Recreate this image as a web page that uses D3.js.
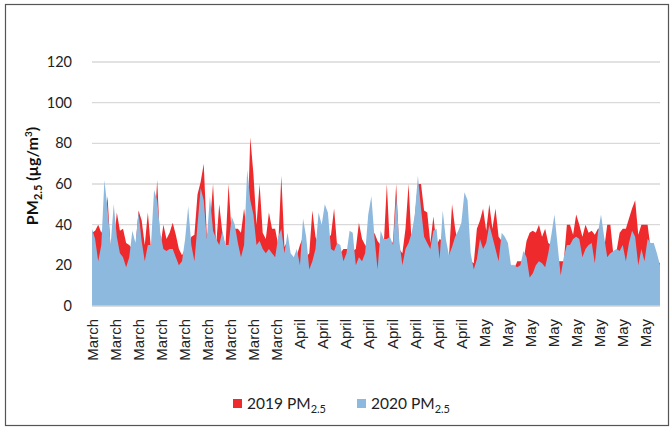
<!DOCTYPE html>
<html>
<head>
<meta charset="utf-8">
<script src="https://cdn.jsdelivr.net/npm/d3@7"></script>
<style>
  body { margin: 0; background: #fff; }
  svg { display: block; }
</style>
</head>
<body>
<div id="chart"></div>
<script>
// 12-hourly readings, 1 March to 31 May
const hourStep = 12;
const values2019 = [36,37,40,36,40,54,28,30,46,37,38,31,30,28,29,47,42,30,46,28,
  35,62,29,40,33,36,41,35,28,25,28,30,34,35,55,61,70,34,40,60,
  30,50,36,29,60,35,38,38,36,48,35,83,65,40,60,36,33,46,38,38,
  30,64,29,32,24,22,25,30,34,24,26,47,34,30,30,35,33,35,48,29,
  26,28,28,28,27,28,41,33,30,28,30,36,32,30,30,60,28,32,60,28,
  26,38,60,30,44,60,60,47,46,31,44,30,33,32,26,24,50,38,30,30,
  32,30,22,21,38,42,48,37,50,38,48,34,32,30,26,18,18,22,22,22,
  32,36,37,36,40,34,38,31,30,28,22,22,22,40,40,35,45,40,34,40,
  36,37,35,38,38,28,40,40,25,27,36,38,38,43,48,52,35,40,40,40,
  28,26,22,21];
const values2020 = [38,33,22,30,62,48,30,50,34,26,24,19,24,37,31,46,32,22,30,30,
  57,52,36,28,27,28,28,24,20,22,33,49,30,22,40,58,52,33,54,37,
  33,30,37,30,30,44,40,31,24,30,67,52,45,30,32,28,26,28,26,24,
  34,38,26,36,26,24,28,20,43,34,18,22,28,46,40,50,46,28,27,31,
  30,22,26,37,36,20,24,22,26,45,54,34,18,37,33,33,34,30,54,32,
  20,28,31,36,45,64,48,34,31,28,37,38,23,47,33,25,29,34,37,41,
  56,52,26,18,23,33,28,31,40,34,28,22,36,34,31,20,20,19,20,27,
  24,14,16,20,22,21,19,26,35,45,30,15,24,30,30,33,34,33,24,28,
  30,31,21,36,45,34,24,26,27,28,27,30,22,31,37,34,20,28,22,33,
  31,31,26,20];

// category labels, one every 89 hours
const tickEvery = 89;
const tickLabels = ["March","March","March","March","March","March","March","March","March",
  "April","April","April","April","April","April","April","April",
  "May","May","May","May","May","May","May","May"];
const yTicks = [0, 20, 40, 60, 80, 100, 120];

const width = 671, height = 429;
const plotLeft = 92, plotRight = 660, plotTop = 62, plotBottom = 306;
const red = "#ee2a2c", blue = "#8db9df";

const svg = d3.select("#chart").append("svg")
    .attr("width", width)
    .attr("height", height);

svg.append("rect")
    .attr("x", 5.5).attr("y", 4.5)
    .attr("width", 663).attr("height", 421)
    .attr("fill", "none")
    .attr("stroke", "#555")
    .attr("stroke-width", 1.2);

const x = d3.scaleLinear()
    .domain([0, (values2020.length - 1) * hourStep])
    .range([plotLeft, plotRight]);

const y = d3.scaleLinear()
    .domain([0, 120])
    .range([plotBottom, plotTop]);

// gridlines
svg.append("g")
    .selectAll("line")
    .data(yTicks.filter(d => d > 0))
    .enter()
    .append("line")
    .attr("x1", plotLeft).attr("x2", plotRight)
    .attr("y1", d => y(d)).attr("y2", d => y(d))
    .attr("stroke", "#d9d9d9")
    .attr("stroke-width", 1.3);

function areaFor(values) {
    return d3.area()
        .x((d, i) => x(i * hourStep))
        .y0(y(0))
        .y1(d => y(d))
        .curve(d3.curveLinear)(values);
}

svg.append("path")
    .attr("d", areaFor(values2019))
    .attr("fill", red);

svg.append("path")
    .attr("d", areaFor(values2020))
    .attr("fill", blue);

// baseline
svg.append("line")
    .attr("x1", plotLeft).attr("x2", plotRight)
    .attr("y1", y(0)).attr("y2", y(0))
    .attr("stroke", "#d0d0d0")
    .attr("stroke-width", 1.3);

// y axis labels
const yAxis = d3.axisLeft(y).tickValues(yTicks).tickSize(0).tickPadding(20);
svg.append("g")
    .attr("transform", "translate(" + plotLeft + ",0)")
    .call(yAxis)
    .call(g => g.select(".domain").remove())
    .selectAll("text")
    .attr("font-family", "Lato, 'Open Sans', sans-serif")
    .attr("font-size", "14.5px")
    .attr("fill", "#222");

// x axis labels
svg.append("g")
    .selectAll("text")
    .data(tickLabels)
    .enter()
    .append("text")
    .attr("transform", (d, i) => "translate(" + (x(i * tickEvery) + 1) + ",319) rotate(-90)")
    .attr("dy", "0.35em")
    .attr("text-anchor", "end")
    .attr("font-family", "'Liberation Sans', Arial, sans-serif")
    .attr("font-size", "15px")
    .attr("fill", "#222")
    .text(d => d);

// y axis title
const title = svg.append("text")
    .attr("transform", "translate(38,176) rotate(-90)")
    .attr("text-anchor", "middle")
    .attr("font-family", "Lato, 'Open Sans', sans-serif")
    .attr("font-weight", "bold")
    .attr("font-size", "16px")
    .attr("fill", "#111");
title.append("tspan").text("PM");
title.append("tspan").attr("font-size", "11px").attr("dy", 4).text("2.5");
title.append("tspan").attr("dy", -4).text(" (µg/m");
title.append("tspan").attr("font-size", "10px").attr("dy", -6).text("3");
title.append("tspan").attr("dy", 6).text(")");

// legend
const legendItems = [
    { label: "2019 PM", color: red, x: 233 },
    { label: "2020 PM", color: blue, x: 357 }
];
const legend = svg.append("g")
    .selectAll("g")
    .data(legendItems)
    .enter()
    .append("g")
    .attr("transform", d => "translate(" + d.x + ",399)");

legend.append("rect")
    .attr("width", 9).attr("height", 9)
    .attr("fill", d => d.color);

const lt = legend.append("text")
    .attr("x", 14).attr("y", 10)
    .attr("font-family", "Lato, 'Open Sans', sans-serif")
    .attr("font-size", "15.5px")
    .attr("fill", "#222");
lt.append("tspan").text(d => d.label);
lt.append("tspan").attr("font-size", "11px").attr("dy", 4).text("2.5");
</script>
</body>
</html>
